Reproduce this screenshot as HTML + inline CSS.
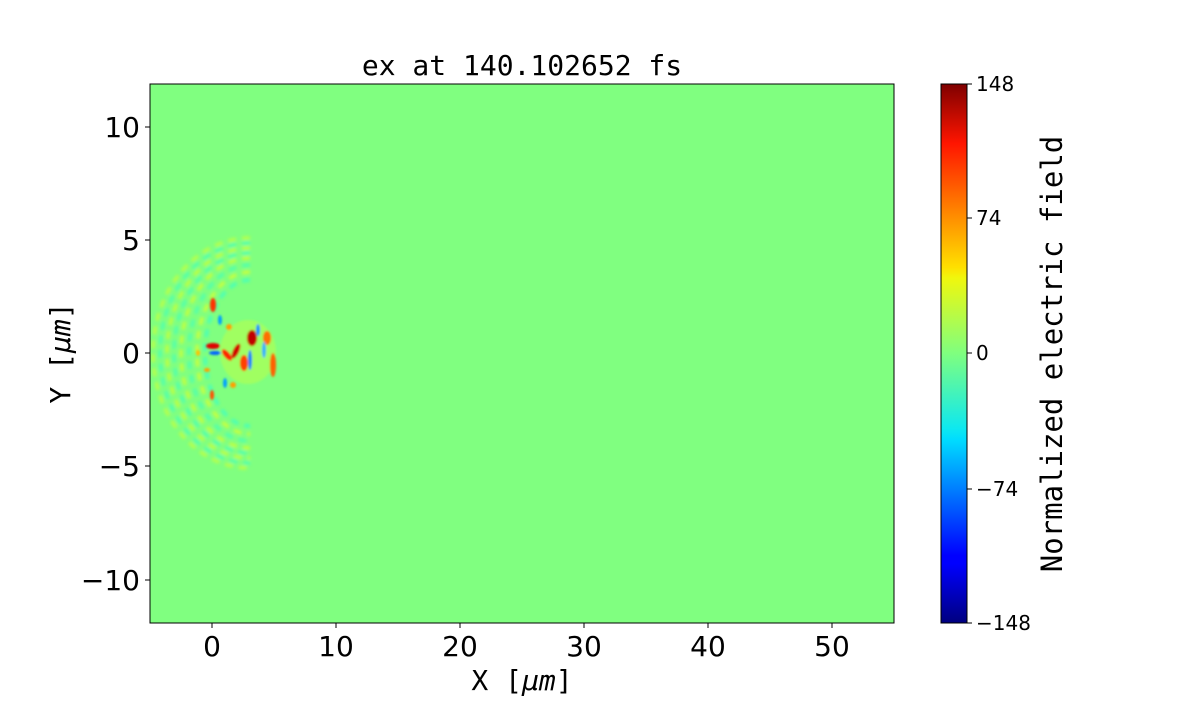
<!DOCTYPE html>
<html><head><style>
body{margin:0;background:#fff;width:1200px;height:700px;overflow:hidden}
</style></head><body>
<svg width="1200" height="700" xmlns="http://www.w3.org/2000/svg" font-family="DejaVu Sans Mono, Liberation Mono, monospace">
<defs>
<linearGradient id="jet" x1="0" y1="1" x2="0" y2="0">
<stop offset="0" stop-color="#00007f"/>
<stop offset="0.11" stop-color="#0000ff"/>
<stop offset="0.125" stop-color="#0000ff"/>
<stop offset="0.34" stop-color="#00dcff"/>
<stop offset="0.36" stop-color="#0de8f0"/>
<stop offset="0.5" stop-color="#7fff7f"/>
<stop offset="0.64" stop-color="#f0f70d"/>
<stop offset="0.66" stop-color="#ffe000"/>
<stop offset="0.89" stop-color="#ff1500"/>
<stop offset="1" stop-color="#7f0000"/>
</linearGradient>
<filter id="bl" x="-50%" y="-50%" width="200%" height="200%"><feGaussianBlur stdDeviation="1"/></filter>
<filter id="bl2" x="-50%" y="-50%" width="200%" height="200%"><feGaussianBlur stdDeviation="1.5"/></filter>
<clipPath id="cp"><rect x="150" y="84" width="744" height="539"/></clipPath>
</defs>
<rect x="150" y="84" width="744" height="539" fill="#80ff80"/>
<g clip-path="url(#cp)">
<g filter="url(#bl2)" opacity="0.7" fill="none" stroke-width="3.5" stroke-dasharray="8 6">
<path d="M250,238 A97,115 0 0 0 250,468" stroke="#d0ff30"/>
<path d="M250,243 A90,110 0 0 0 250,463" stroke="#40ffc0"/>
<path d="M250,248 A83,105 0 0 0 250,458" stroke="#d8ff28"/>
<path d="M250,253 A76,100 0 0 0 250,453" stroke="#40ffc0"/>
<path d="M250,258 A69,95 0 0 0 250,448" stroke="#e0ff20"/>
<path d="M250,265 A61,88 0 0 0 250,441" stroke="#40ffc0"/>
<path d="M250,272 A53,81 0 0 0 250,434" stroke="#e8ff20"/>
<path d="M250,280 A45,73 0 0 0 250,426" stroke="#30ffd0"/>
</g>
<g filter="url(#bl)">
<ellipse cx="248" cy="352" rx="28" ry="32" fill="#c0ff40" opacity="0.5"/>
<ellipse cx="213" cy="305" rx="3" ry="7" fill="#ff3000"/>
<ellipse cx="213" cy="346" rx="7" ry="3" fill="#e00000"/>
<ellipse cx="215" cy="353" rx="6" ry="2" fill="#0060ff"/>
<ellipse cx="236" cy="351" rx="3" ry="8" fill="#d00000" transform="rotate(25 236 351)"/>
<ellipse cx="227" cy="355" rx="3" ry="7" fill="#ff2000" transform="rotate(-40 227 355)"/>
<ellipse cx="252" cy="338" rx="5" ry="8" fill="#c00000"/>
<ellipse cx="244" cy="363" rx="4" ry="8" fill="#ff4000"/>
<ellipse cx="250" cy="360" rx="2" ry="10" fill="#0080ff"/>
<ellipse cx="273" cy="365" rx="3" ry="12" fill="#ff6000"/>
<ellipse cx="267" cy="338" rx="4" ry="7" fill="#ff7000"/>
<ellipse cx="258" cy="330" rx="2" ry="6" fill="#0090ff"/>
<ellipse cx="220" cy="320" rx="2" ry="5" fill="#00a0ff"/>
<ellipse cx="225" cy="383" rx="2" ry="5" fill="#00a0ff"/>
<ellipse cx="212" cy="395" rx="2" ry="5" fill="#ff5000"/>
<ellipse cx="229" cy="327" rx="3" ry="3" fill="#ffa000"/>
<ellipse cx="233" cy="385" rx="3" ry="3" fill="#ffa000"/>
<ellipse cx="207" cy="370" rx="3" ry="2" fill="#ffa000"/>
<ellipse cx="198" cy="353" rx="2" ry="3" fill="#ffc000"/>
<ellipse cx="264" cy="350" rx="2" ry="8" fill="#30b0ff"/>
</g>
</g>
<rect x="150" y="84" width="744" height="539" fill="none" stroke="#000" stroke-width="1"/>
<g stroke="#000" stroke-width="1">
<line x1="212" y1="623" x2="212" y2="628"/><line x1="336" y1="623" x2="336" y2="628"/><line x1="460" y1="623" x2="460" y2="628"/><line x1="584" y1="623" x2="584" y2="628"/><line x1="708" y1="623" x2="708" y2="628"/><line x1="832" y1="623" x2="832" y2="628"/>
<line x1="145" y1="127" x2="150" y2="127"/><line x1="145" y1="240" x2="150" y2="240"/><line x1="145" y1="353" x2="150" y2="353"/><line x1="145" y1="466" x2="150" y2="466"/><line x1="145" y1="580" x2="150" y2="580"/>
</g>
<g font-family="DejaVu Sans, Liberation Sans, sans-serif" font-size="28" fill="#000">
<g text-anchor="middle">
<text x="212" y="656">0</text><text x="336" y="656">10</text><text x="460" y="656">20</text><text x="584" y="656">30</text><text x="708" y="656">40</text><text x="832" y="656">50</text>
</g>
<g text-anchor="end">
<text x="140" y="137">10</text><text x="140" y="250">5</text><text x="140" y="363">0</text><text x="140" y="476">−5</text><text x="140" y="590">−10</text>
</g>
</g>
<text x="522" y="690" font-size="28" text-anchor="middle">X [<tspan font-style="italic">μm</tspan>]</text>
<text transform="translate(70,353) rotate(-90)" font-size="28" text-anchor="middle">Y [<tspan font-style="italic">μm</tspan>]</text>
<text x="522" y="75" font-size="28" text-anchor="middle">ex at 140.102652 fs</text>
<rect x="941" y="84" width="26" height="539" fill="url(#jet)" stroke="#000" stroke-width="1"/>
<g stroke="#000"><line x1="967" y1="84" x2="972" y2="84"/><line x1="967" y1="218" x2="972" y2="218"/><line x1="967" y1="353" x2="972" y2="353"/><line x1="967" y1="489" x2="972" y2="489"/><line x1="967" y1="623" x2="972" y2="623"/></g>
<g font-family="DejaVu Sans, Liberation Sans, sans-serif" font-size="20">
<text x="976" y="91">148</text><text x="976" y="225">74</text><text x="976" y="360">0</text><text x="976" y="496">−74</text><text x="976" y="630">−148</text>
</g>
<text transform="translate(1062,354) rotate(-90)" font-size="29" text-anchor="middle">Normalized electric field</text>
</svg>
</body></html>
